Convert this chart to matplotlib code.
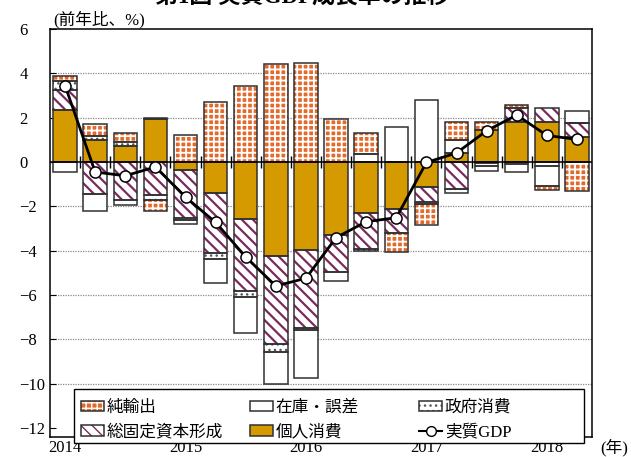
import matplotlib
matplotlib.use('Agg')
import matplotlib.pyplot as plt
import numpy as np
from matplotlib.patches import Patch, Rectangle
from matplotlib.lines import Line2D
from matplotlib.legend import Legend
from matplotlib.legend_handler import HandlerTuple

plt.rcParams['font.family'] = ['Liberation Serif', 'Noto Sans CJK JP']

# quarters 2014Q1 .. 2018Q2, contributions to real GDP growth (y/y, %)
years = ['2014', '2015', '2016', '2017', '2018']
consumption = [2.33, 0.98, 0.71, 1.94, -0.36, -1.41, -2.58, -4.25, -3.98, -3.27,
               -2.28, -2.12, -1.14, 0.40, 1.44, 1.79, 1.82, 1.11]
investment = [0.94, -1.44, -1.71, -1.50, -2.16, -2.70, -3.22, -3.95, -3.51, -1.68,
              -1.65, -1.06, -0.65, -1.23, -0.05, 0.63, 0.60, 0.63]
government = [0.38, 0.21, 0.20, -0.20, -0.08, -0.27, -0.30, -0.36, -0.09, 0.00,
              -0.06, 0.00, -0.12, -0.15, -0.12, -0.09, -0.18, 0.00]
inventory = [-0.44, -0.75, -0.21, 0.03, -0.20, -1.08, -1.62, -1.43, -2.14, -0.41,
             0.35, 1.56, 2.79, 0.59, -0.22, -0.37, -0.89, 0.57]
net_exports = [0.22, 0.54, 0.39, -0.50, 1.20, 2.73, 3.44, 4.40, 4.46, 1.95,
               0.94, -0.89, -0.93, 0.80, 0.35, 0.15, -0.18, -1.29]
gdp = [3.45, -0.45, -0.62, -0.22, -1.58, -2.72, -4.28, -5.59, -5.24, -3.41,
       -2.69, -2.51, -0.02, 0.41, 1.41, 2.12, 1.20, 1.02]

# (label, values, face, hatch, hatch colour, hatch linewidth)
series = [
    ('個人消費', consumption, '#D49A00', None, '#D49A00', 1.0),
    ('総固定資本形成', investment, 'white', '\\\\\\', '#7A2B5E', 1.6),
    ('政府消費', government, 'white', '...', '#555555', 1.0),
    ('在庫・誤差', inventory, 'white', None, 'white', 1.0),
    ('純輸出', net_exports, '#E46A2C', '+++', 'white', 1.3),
]

x = np.arange(len(gdp))
width = 0.78
edge = '#303030'

fig = plt.figure(figsize=(6.31, 4.57), dpi=100)
ax = fig.add_axes([50 / 631, 20 / 457, 542 / 631, 408 / 457])

pos_bottom = np.zeros(len(x))
neg_bottom = np.zeros(len(x))
handles = {}
for label, vals, face, hatch, hcol, hlw in series:
    vals = np.array(vals)
    bottom = np.where(vals >= 0, pos_bottom, neg_bottom)
    with plt.rc_context({'hatch.linewidth': hlw}):
        ax.bar(x, vals, width, bottom=bottom, color=face, hatch=hatch,
               edgecolor=hcol, linewidth=0, zorder=2)
        fill_handle = Patch(facecolor=face, hatch=hatch, edgecolor=hcol, linewidth=0)
    ax.bar(x, vals, width, bottom=bottom, fill=False,
           edgecolor=edge, linewidth=1.1, zorder=3)
    pos_bottom += np.where(vals >= 0, vals, 0)
    neg_bottom += np.where(vals < 0, vals, 0)
    handles[label] = (fill_handle, Patch(fill=False, edgecolor=edge, linewidth=1.1))

ax.plot(x, gdp, color='black', linewidth=2, marker='o', markersize=8,
        markerfacecolor='white', markeredgecolor='black', markeredgewidth=1.1,
        zorder=5)
handles['実質GDP'] = Line2D([], [], color='black', linewidth=1.5, marker='o',
                          markersize=7, markerfacecolor='white',
                          markeredgecolor='black')

ax.axhline(0, color='black', linewidth=1.1, zorder=4)
# small ticks on the zero line between quarters
ax.plot(x[:-1] + 0.5, np.zeros(len(x) - 1), linestyle='none', marker='|',
        markersize=9, color='black', markeredgewidth=1.0, zorder=4)

ax.set_xlim(-0.5, len(x) - 0.5)
ax.set_ylim(-12.4, 6)
ax.set_yticks(np.arange(-12, 7, 2))
for v in np.arange(-10, 6, 2):
    if v != 0:
        ax.axhline(v, color='#888888', linewidth=0.9, linestyle=(0, (1, 1)), zorder=1)
ax.tick_params(axis='y', direction='in', length=4, pad=22, labelsize=12)
for t in ax.get_yticklabels():
    t.set_horizontalalignment('left')
ax.set_xticks(x[::4])
ax.set_xticklabels(years)
ax.tick_params(axis='x', length=0, pad=2, labelsize=12)
for s in ax.spines.values():
    s.set_linewidth(1.1)

# legend: white box with three equal columns
frame = Rectangle((74 / 631, 1 - 443 / 457), 510 / 631, 54 / 457,
                  transform=fig.transFigure, facecolor='white', edgecolor='black',
                  linewidth=1.0, zorder=6, clip_on=False)
ax.add_patch(frame)
columns = [['純輸出', '総固定資本形成'], ['在庫・誤差', '個人消費'], ['政府消費', '実質GDP']]
col_x = [81, 250, 419]
for cx, labels in zip(col_x, columns):
    leg = Legend(ax, [handles[k] for k in labels], labels,
                 loc='upper left', bbox_to_anchor=(cx / 631, 1 - 400 / 457),
                 bbox_transform=fig.transFigure, frameon=False,
                 borderaxespad=0, borderpad=0, fontsize=12, handlelength=1.4,
                 handleheight=0.6, handletextpad=0.15, labelspacing=0.5,
                 handler_map={tuple: HandlerTuple(ndivide=1, pad=0)})
    leg.set_zorder(7)
    ax.add_artist(leg)

fig.text(53 / 631, 1 - 20 / 457, '(前年比、%)', fontsize=12, va='center', ha='left')
fig.text(600 / 631, 1 - 448 / 457, '(年)', fontsize=12, va='center', ha='left')
fig.text(302 / 631, 1 - 4 / 457, '第1図 実質GDP成長率の推移', fontsize=16.5,
         fontweight='bold', ha='center', va='baseline')

fig.savefig('out.png', dpi=100)
